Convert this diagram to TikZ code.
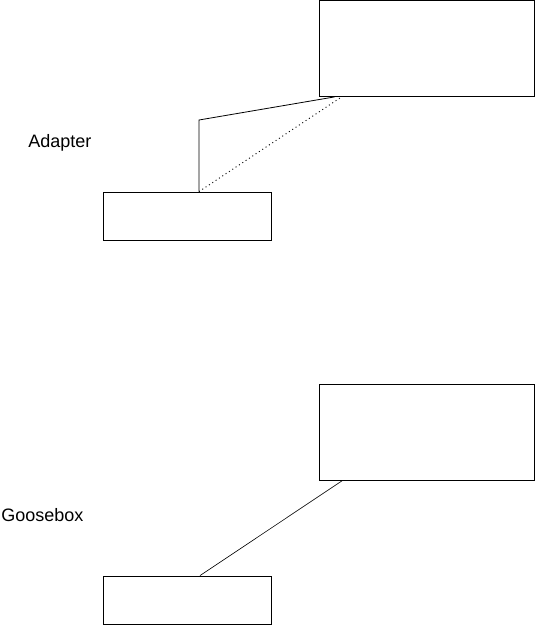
\documentclass[tikz,border=0pt]{standalone}
\usepackage{fontspec}
\setmainfont{Liberation Sans}
\begin{document}
\begin{tikzpicture}[x=1pt,y=-1pt,line width=0.8pt,
  bigbox/.style={draw=black,rectangle,inner sep=0pt,minimum width=215pt,minimum height=96pt},
  smallbox/.style={draw=black,rectangle,inner sep=0pt,minimum width=168pt,minimum height=48pt},
  label/.style={anchor=base west,inner sep=0pt,font=\fontsize{18}{20}\selectfont}]
  \useasboundingbox (0,0) rectangle (536,625);
  \node[bigbox] (adaptertop) at (426.5,48.5) {};
  \node[smallbox] (adapterlow) at (187,216) {};
  \node[label] (adapterlabel) at (28,147) {Adapter};
  \coordinate (adapterbend) at (199,120);
  \draw[draw=black] ([xshift=12pt]adapterlow.north) -- (adapterbend) -- ([xshift=16pt]adaptertop.south west);
  \draw[draw=black,line width=0.9pt,dash pattern=on 1pt off 3pt] ([xshift=12pt]adapterlow.north) -- ([xshift=23pt]adaptertop.south west);
  \node[bigbox] (gooseboxtop) at (426.5,432) {};
  \node[smallbox] (gooseboxlow) at (187,600) {};
  \node[label] (gooseboxlabel) at (1,521) {Goosebox};
  \draw[draw=black,line width=0.6pt] ([xshift=13pt]gooseboxlow.north) -- ([xshift=24pt]gooseboxtop.south west);
\end{tikzpicture}
\end{document}
